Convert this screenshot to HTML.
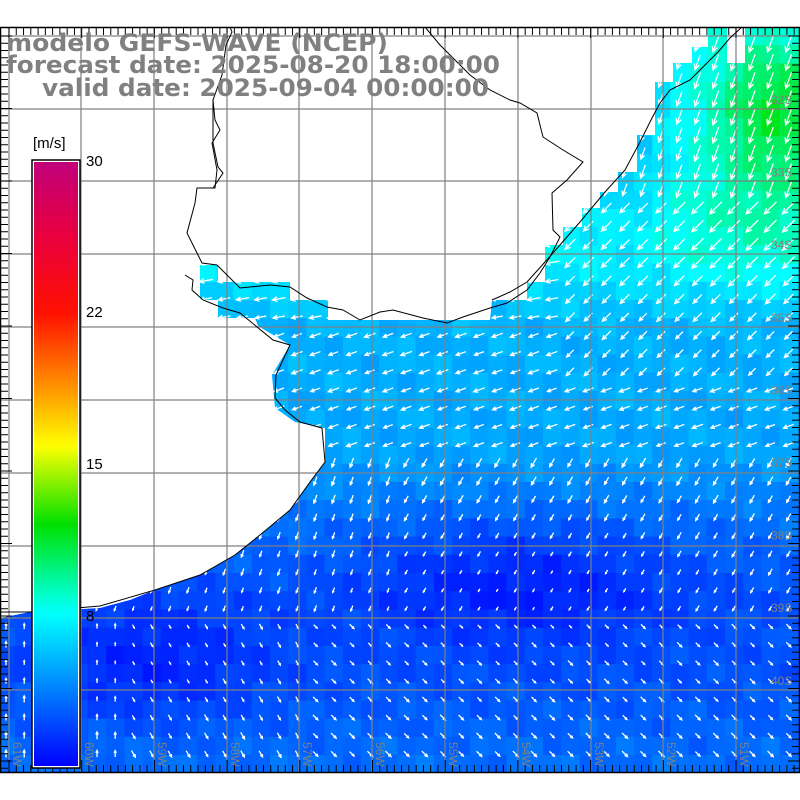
<!DOCTYPE html>
<html><head><meta charset="utf-8"><style>
html,body{margin:0;padding:0;background:#fff;width:800px;height:800px;overflow:hidden}
svg{display:block}
</style></head><body>
<svg id="s" width="800" height="800" xmlns="http://www.w3.org/2000/svg" font-family="Liberation Sans, DejaVu Sans, sans-serif">
<defs>
<clipPath id="oc"><polygon points="708,27 800,27 800,772 0,772 0,618 30,612 100,608 130,600 155,590 200,575 235,555 260,535 290,510 310,482 325,462 325,428 295,422 275,408 272,375 290,345 258,326 255,318 218,318 218,300 200,300 200,265 218,265 218,282 290,282 290,300 328,300 328,320 490,320 492,300 527,300 527,282 545,282 545,245 563,245 563,227 582,227 582,208 600,208 600,192 618,192 618,172 637,172 637,135 655,135 655,82 673,82 673,63 692,63 692,47 708,47"/></clipPath>
<linearGradient id="cb" x1="0" y1="0" x2="0" y2="1">
<stop offset="0" stop-color="#c0007a"/><stop offset="0.12" stop-color="#e80040"/>
<stop offset="0.25" stop-color="#ff1000"/><stop offset="0.37" stop-color="#ff9000"/>
<stop offset="0.47" stop-color="#ffff00"/><stop offset="0.6" stop-color="#00e000"/>
<stop offset="0.72" stop-color="#00ffd0"/><stop offset="0.75" stop-color="#00ffff"/>
<stop offset="1" stop-color="#0000ff"/></linearGradient>
</defs>
<g id="cells" clip-path="url(#oc)"></g>
<g id="arr" clip-path="url(#oc)" stroke="#fff" stroke-width="1.3" fill="none"></g>
<rect x="727" y="27" width="18" height="36" fill="#fff"/>
<g id="grid" stroke="#808080" stroke-width="1.2"></g>
<g fill="none" stroke="#000" stroke-width="1">
<polyline points="230,27 232,32 226,45 222,75 213,100 215,120 220,130 212,143 217,170 215,188 197,188 195,203 187,233 197,253 202,263 217,265 240,288 270,285 290,287 307,298 327,307 343,310 360,320 380,312 393,310 423,318 447,323 463,317 490,308 507,303 527,290 540,273 550,257 560,237 553,230 552,193 567,180 583,162 563,150 543,137 537,113 520,103 510,100 490,90 470,75 455,60 440,45 425,27"/>
<polyline points="213,100 213,143 218,167 223,173 213,188"/>
<polyline points="185,275 193,280 192,290 203,300 223,308 240,313 273,340 290,345 276,375 275,398 285,410 300,422 322,428 325,462 310,482 290,510 260,535 235,555 200,575 155,590 100,606 30,612 0,612"/>
<polyline points="492,300 510,292 527,282 545,262 560,245 580,222 605,192 625,170 640,142 652,118 660,103 670,90 690,80 700,70 718,52 730,38 742,27"/>
</g>
<rect x="0.5" y="27.5" width="799" height="745" fill="none" stroke="#000" stroke-width="1.5"/>
<g id="ticks" stroke="#000" stroke-width="1"></g>
<g fill="#808080" font-weight="bold" font-size="24" font-family="DejaVu Sans, Liberation Sans, sans-serif" lengthAdjust="spacingAndGlyphs">
<text x="6" y="51" textLength="382" lengthAdjust="spacingAndGlyphs">modelo GEFS-WAVE (NCEP)</text>
<text x="6" y="73" textLength="494" lengthAdjust="spacingAndGlyphs">forecast date: 2025-08-20 18:00:00</text>
<text x="42" y="96" textLength="447" lengthAdjust="spacingAndGlyphs">valid date: 2025-09-04 00:00:00</text>
</g>
<text x="33" y="148" font-size="15" fill="#000">[m/s]</text>
<rect x="32" y="160" width="48" height="608" fill="#fff" stroke="#000" stroke-width="1.5"/>
<rect x="34" y="162" width="44" height="604" fill="url(#cb)"/>
<g font-size="15" fill="#000"><text x="86" y="166">30</text><text x="86" y="317">22</text><text x="86" y="469">15</text><text x="86" y="621">8</text></g>
<g id="lab" font-size="12" fill="#808080"></g>
</svg>
<script>
const C=document.getElementById('cells'),A=document.getElementById('arr'),G=document.getElementById('grid'),T=document.getElementById('ticks'),L=document.getElementById('lab');
const NS='http://www.w3.org/2000/svg';
function el(p,t,a){const e=document.createElementNS(NS,t);for(const k in a)e.setAttribute(k,a[k]);p.appendChild(e);return e;}
function interp(xs,ys,v){if(v<=xs[0])return ys[0];for(let i=1;i<xs.length;i++)if(v<=xs[i]){const t=(v-xs[i-1])/(xs[i]-xs[i-1]);return ys[i-1]+t*(ys[i]-ys[i-1]);}return ys[ys.length-1];}
function g(x,y,cx,cy,sx,sy){return Math.exp(-((x-cx)*(x-cx)/(2*sx*sx)+(y-cy)*(y-cy)/(2*sy*sy)));}
function sp(x,y){let s=interp([27,200,260,330,450,520,600,680,760],[7.5,7.8,7.6,5.6,5.2,3.6,2.6,2.6,3.4],y);
s+=4.5*g(x,y,775,110,45,55)+1.5*g(x,y,760,230,80,40)-1.8*g(x,y,520,580,110,45)-1.5*g(x,y,150,660,80,45)-1.5*g(x,y,630,160,25,60);
s+=Math.sin(x*0.13+y*0.07)*0.3+Math.cos(x*0.05-y*0.11)*0.3;return Math.max(0.5,s);}
function col(s){const st=[[0,0,0,255],[8,0,255,255],[9,0,255,210],[13,0,224,0],[15,180,255,0],[17,255,255,0]];
for(let i=1;i<st.length;i++)if(s<=st[i][0]){const a=st[i-1],b=st[i],t=(s-a[0])/(b[0]-a[0]);return `rgb(${Math.round(a[1]+t*(b[1]-a[1]))},${Math.round(a[2]+t*(b[2]-a[2]))},${Math.round(a[3]+t*(b[3]-a[3]))})`;}return '#ff0';}
for(let y=27;y<772;y+=18.2)for(let x=-3;x<800;x+=18.2){el(C,'rect',{x:x,y:y,width:18.7,height:18.7,fill:col(sp(x+9,y+9))});}
for(let y=44;y<772;y+=18.2)for(let x=6;x<800;x+=18.2){const s=sp(x,y);let ang;
if(y<450){ang=x>560&&y<380?225:(y<330?190:200);}else if(y<620){ang=x>400?240:250;}else{ang=x>300?315:(x<120?90:300);}
if(y<200&&x>600)ang=250;
const r=ang*Math.PI/180,len=Math.min(17,1.5+s*1.7),dx=Math.cos(r)*len,dy=-Math.sin(r)*len;
const x0=x-dx/2,y0=y-dy/2,x1=x+dx/2,y1=y+dy/2,h=Math.min(6,len*0.4);
const a1=r+Math.PI-0.45,a2=r+Math.PI+0.45;
el(A,'path',{d:`M${x0},${y0}L${x1},${y1}M${x1+Math.cos(a1)*h},${y1-Math.sin(a1)*h}L${x1},${y1}L${x1+Math.cos(a2)*h},${y1-Math.sin(a2)*h}`});}
const gx=[9,81,154,227,299,372,445,518,591,663,736],gy=[36,109,181,254,327,400,473,546,618,690];
gx.forEach(x=>el(G,'line',{x1:x,y1:27,x2:x,y2:772}));gy.forEach(y=>el(G,'line',{x1:0,y1:y,x2:800,y2:y}));
for(let x=9;x<800;x+=7.27){const big=Math.abs(((x-9)/72.7)-Math.round((x-9)/72.7))<0.01;el(T,'line',{x1:x,y1:27,x2:x,y2:big?38:35});el(T,'line',{x1:x,y1:772,x2:x,y2:big?760:765});}
for(let y=36;y<772;y+=7.25){const big=Math.abs(((y-36)/72.5)-Math.round((y-36)/72.5))<0.01;el(T,'line',{x1:0,y1:y,x2:big?12:8,y2:y});el(T,'line',{x1:800,y1:y,x2:big?788:792,y2:y});}
['61W','60W','59W','58W','57W','56W','55W','54W','53W','52W','51W'].forEach((t,i)=>{const x=gx[i]+4;const e=el(L,'text',{x:0,y:0,transform:`translate(${x},742) rotate(90)`});e.textContent=t;});
['32S','33S','34S','35S','36S','37S','38S','39S','40S'].forEach((t,i)=>{const e=el(L,'text',{x:771,y:104+i*72.6});e.textContent=t;});
</script>
</body></html>
